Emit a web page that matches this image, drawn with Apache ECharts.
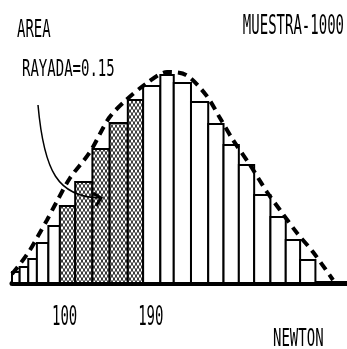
<!DOCTYPE html>
<html>
<head>
<meta charset="utf-8">
<script src="https://cdn.jsdelivr.net/npm/echarts@6/dist/echarts.min.js"></script>
<style>
  html, body { margin: 0; padding: 0; background: #fff; }
  #chart { width: 347px; height: 349px; }
</style>
</head>
<body>
<div id="chart"></div>
<script>
// bin edges (newton) and bar heights
const binEdges = [45, 53, 62, 71, 83, 95, 111, 129, 147, 166, 182, 200, 214, 232, 250, 266, 282, 298, 315, 331, 346, 362]
const counts = [11, 16, 24, 40, 57, 77, 101, 134, 160, 183, 197, 208, 200, 181, 159, 138, 118, 88, 66, 43, 23]

// dashed bell curve
const curveX = [45, 53.4, 63.8, 72.2, 81.6, 91, 105.6, 126.5, 146.3, 163.1, 186, 207, 226.8, 247.7, 262.3, 275.9, 293.7, 311.4, 325, 342.8, 359.5, 380.4]
const curveY = [9, 19, 33, 47, 63, 80, 105, 131, 165, 182, 200, 211, 208, 188, 165, 143, 118, 91, 73, 50, 31, 3]

// shaded ("rayada") range
const shadedRange = [95, 182]

const xTicks = [100, 190]
const xTickLabels = ['100', '190']

const FONT = '14px "DejaVu Sans Mono"'

// fine cross hatch pattern
const pat = document.createElement('canvas')
pat.width = 4
pat.height = 6
const pc = pat.getContext('2d')
pc.fillStyle = '#fff'
pc.fillRect(0, 0, 4, 6)
pc.strokeStyle = '#000'
pc.lineWidth = 0.9
pc.beginPath()
pc.moveTo(0, 0); pc.lineTo(4, 6)
pc.moveTo(4, 0); pc.lineTo(0, 6)
pc.stroke()
const hatch = { image: pat, repeat: 'repeat' }

const bars = counts.map((c, i) => [binEdges[i], binEdges[i + 1], c])

const chart = echarts.init(document.getElementById('chart'), null, { renderer: 'canvas' })

chart.setOption({
  animation: false,
  grid: { left: 12, right: 0, top: 63, bottom: 66 },
  xAxis: {
    type: 'value',
    min: 45,
    max: 395,
    axisLine: { show: true, onZero: false, lineStyle: { color: '#000', width: 5 } },
    axisTick: { show: false },
    axisLabel: { show: false },
    splitLine: { show: false },
  },
  yAxis: {
    type: 'value',
    min: 0,
    max: 220,
    show: false,
  },
  series: [
    {
      type: 'custom',
      encode: { x: [0, 1], y: 2 },
      data: bars,
      z: 2,
      renderItem: (params, api) => {
        const x0 = api.value(0)
        const x1 = api.value(1)
        const h = api.value(2)
        const p0 = api.coord([x0, h])
        const p1 = api.coord([x1, 0])
        const shaded = x0 >= shadedRange[0] && x1 <= shadedRange[1]
        return {
          type: 'rect',
          shape: { x: p0[0], y: p0[1], width: p1[0] - p0[0], height: p1[1] - p0[1] },
          style: { fill: shaded ? hatch : '#fff', stroke: '#000', lineWidth: 2 },
        }
      },
    },
    {
      type: 'line',
      data: curveX.map((x, i) => [x, curveY[i]]),
      symbol: 'none',
      smooth: 0.3,
      z: 3,
      lineStyle: { color: '#000', width: 4, type: [9, 6], cap: 'butt' },
    },
  ],
})

const txt = (text, x, y, sy, align) => ({
  type: 'text',
  x, y,
  scaleY: sy,
  z: 10,
  style: { text, font: FONT, fill: '#000', align: align || 'left', verticalAlign: 'middle' },
})

const tickTexts = xTicks.map((v, i) => {
  const px = chart.convertToPixel({ xAxisIndex: 0 }, v)
  return txt(xTickLabels[i], px, 318, 1.9, 'center')
})

chart.setOption({
  graphic: [
    txt('AREA', 17, 30.5, 1.75),
    txt('RAYADA=0.15', 22, 70, 1.7),
    txt('MUESTRA-1000', 344, 27.5, 1.85, 'right'),
    txt('NEWTON', 273, 339, 1.8),
    ...tickTexts,
    {
      type: 'bezierCurve',
      z: 9,
      shape: { x1: 38, y1: 105, cpx1: 44, cpy1: 172, cpx2: 58, cpy2: 197, x2: 100, y2: 198 },
      style: { stroke: '#000', lineWidth: 1.5, fill: null },
    },
    {
      type: 'polyline',
      z: 9,
      shape: { points: [[93, 193], [101, 198], [96, 206]] },
      style: { stroke: '#000', lineWidth: 3, fill: null },
    },
  ],
})
</script>
</body>
</html>
